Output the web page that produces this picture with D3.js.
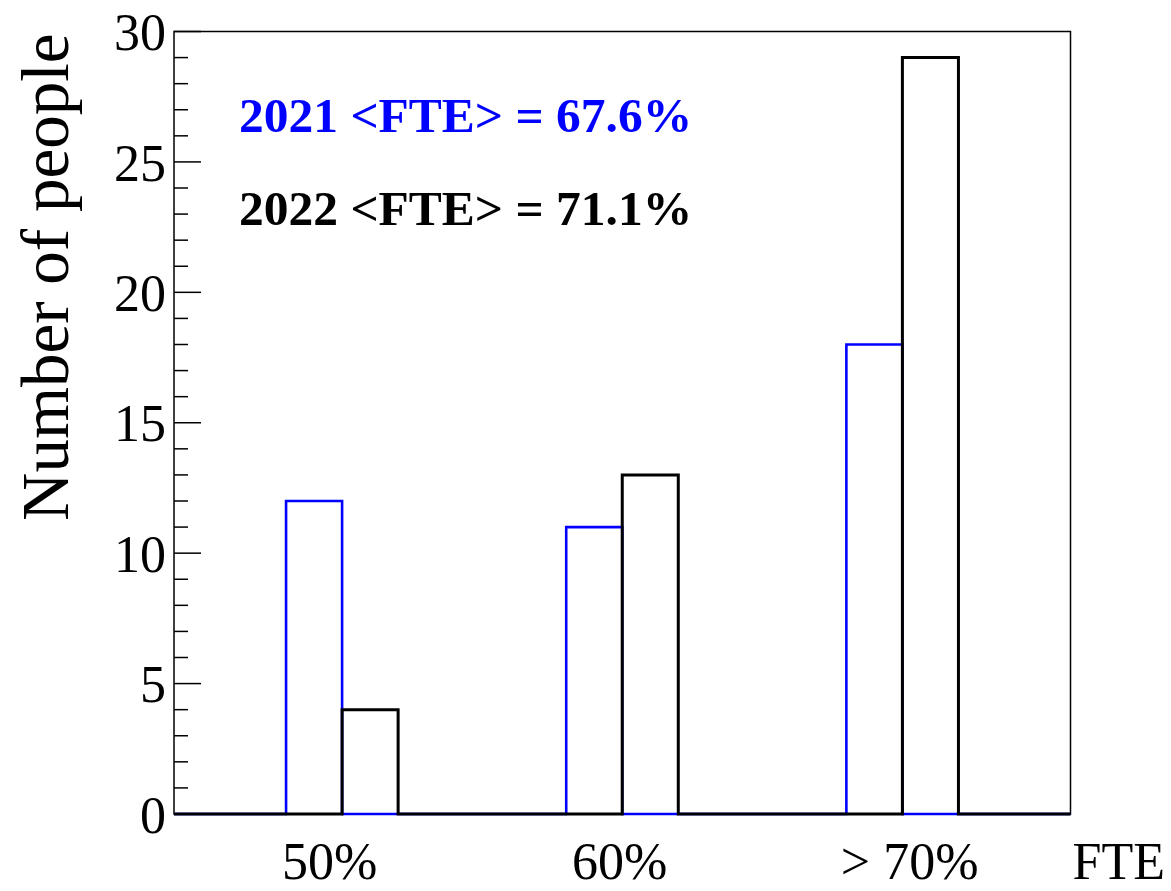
<!DOCTYPE html>
<html>
<head>
<meta charset="utf-8">
<script src="https://cdn.jsdelivr.net/npm/d3@7"></script>
<style>
  html, body { margin: 0; padding: 0; background: #fff; }
  svg { display: block; }
  text { font-family: "Liberation Serif", "Times New Roman", serif; }
</style>
</head>
<body>
<svg id="chart" width="1171" height="891"></svg>
<script>
// ---- data ----
const nBins = 16;
const counts2021 = [0, 0, 12, 0, 0, 0, 0, 11, 0, 0, 0, 0, 18, 0, 0, 0];
const counts2022 = [0, 0, 0, 4, 0, 0, 0, 0, 13, 0, 0, 0, 0, 29, 0, 0];
const categories = ["50%", "60%", "> 70%"];
const yTickValues = [0, 5, 10, 15, 20, 25, 30];
const yMax = 30;
const xTitle = "FTE";
const yTitle = "Number of people";
const legendLines = [
  { text: "2021 <FTE> = 67.6%", color: "#0000ff" },
  { text: "2022 <FTE> = 71.1%", color: "#000000" }
];

// ---- layout ----
const frame = { left: 174, right: 1070.5, top: 31.5, bottom: 814 };
const svg = d3.select("#chart");

const x = d3.scaleLinear().domain([0, nBins]).range([frame.left, frame.right]);
const y = d3.scaleLinear().domain([0, yMax]).range([frame.bottom, frame.top]);

// frame
svg.append("rect")
  .attr("x", frame.left).attr("y", frame.top)
  .attr("width", frame.right - frame.left).attr("height", frame.bottom - frame.top)
  .attr("fill", "none").attr("stroke", "#000").attr("stroke-width", 1.5);

// y axis ticks (major + minor)
const minorTicks = d3.range(0, yMax + 0.001, 1);
svg.append("g").selectAll("line").data(minorTicks).join("line")
  .attr("x1", frame.left).attr("x2", d => frame.left + (d % 5 === 0 ? 27 : 14))
  .attr("y1", d => y(d)).attr("y2", d => y(d))
  .attr("stroke", "#000").attr("stroke-width", 1.5);

svg.append("g").selectAll("text").data(yTickValues).join("text")
  .attr("x", frame.left - 8).attr("y", d => y(d)).attr("dy", "0.36em")
  .attr("text-anchor", "end").attr("font-size", 52).attr("fill", "#000")
  .text(d => d);

// histogram step outlines
function stepPoints(counts) {
  const pts = [];
  counts.forEach((v, i) => {
    pts.push([x(i), y(v)]);
    pts.push([x(i + 1), y(v)]);
  });
  return pts;
}
const line = d3.line();
svg.append("path").attr("d", line(stepPoints(counts2021)))
  .attr("fill", "none").attr("stroke", "#0000ff").attr("stroke-width", 2.6);
svg.append("path").attr("d", line(stepPoints(counts2022)))
  .attr("fill", "none").attr("stroke", "#000").attr("stroke-width", 3);

// category labels
const xc = d3.scalePoint().domain(categories).range([x(2.78), x(13.13)]);
svg.append("g").selectAll("text").data(categories).join("text")
  .attr("x", d => xc(d)).attr("y", 879)
  .attr("text-anchor", "middle").attr("font-size", 52).attr("fill", "#000")
  .text(d => d);

// axis titles
svg.append("text").attr("x", 1165).attr("y", 879)
  .attr("text-anchor", "end").attr("font-size", 52).text(xTitle);
svg.append("text")
  .attr("transform", `translate(68, ${frame.top + 2}) rotate(-90)`)
  .attr("text-anchor", "end").attr("font-size", 67).text(yTitle);

// legend texts
svg.append("g").selectAll("text").data(legendLines).join("text")
  .attr("x", 239).attr("y", (d, i) => 132 + i * 93)
  .attr("font-size", 49.5).attr("font-weight", "bold").attr("fill", d => d.color)
  .text(d => d.text);
</script>
</body>
</html>
